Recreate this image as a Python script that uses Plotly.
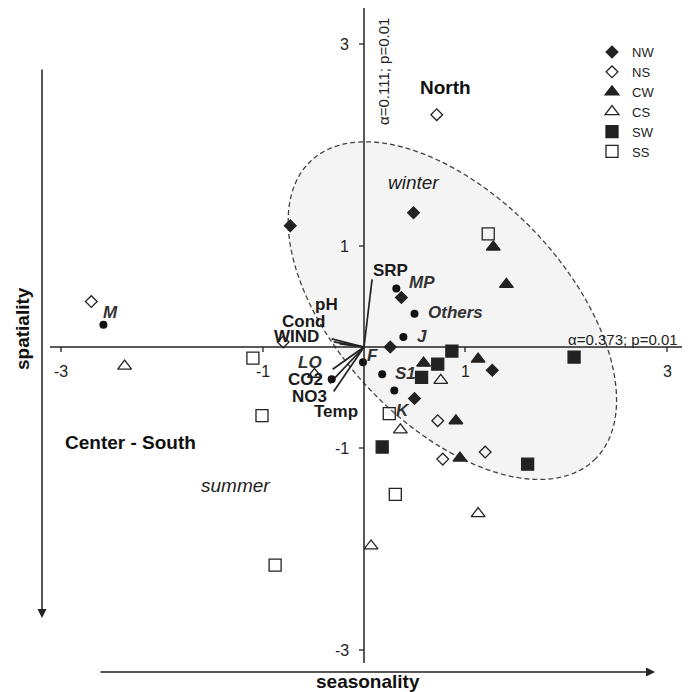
import numpy as np
import plotly.graph_objects as go

# ---------------- data ----------------
# site scores per group
NW_x = [-0.73, 0.49, 0.37, 0.26, 1.27, 0.50]
NW_y = [1.20, 1.33, 0.49, 0.00, -0.23, -0.51]
NS_x = [-2.70, 0.72, -0.80, 0.73, 0.78, 1.20]
NS_y = [0.45, 2.30, 0.05, -0.73, -1.11, -1.04]
CW_x = [1.28, 1.41, 0.59, 1.13, 0.91, 0.95]
CW_y = [0.99, 0.62, -0.16, -0.12, -0.73, -1.10]
CS_x = [-2.37, 0.76, 0.36, 1.13, 0.07, -0.49]
CS_y = [-0.19, -0.33, -0.82, -1.65, -1.97, -0.27]
SW_x = [0.57, 0.73, 0.87, 2.08, 1.62, 0.18]
SW_y = [-0.30, -0.17, -0.04, -0.10, -1.16, -0.99]
SS_x = [1.23, -1.10, -1.01, 0.25, 0.31, -0.88]
SS_y = [1.12, -0.11, -0.68, -0.66, -1.46, -2.16]

# species scores
sp_names = ["M", "MP", "Others", "J", "F", "S1", "K", "LO"]
sp_x = [-2.58, 0.32, 0.50, 0.39, -0.01, 0.18, 0.30, -0.32]
sp_y = [0.22, 0.58, 0.33, 0.10, -0.15, -0.27, -0.43, -0.32]

# environmental vectors
env_names = ["SRP", "pH", "Cond", "WIND", "CO2", "NO3", "Temp"]
env_x = [0.08, -0.32, -0.30, -0.24, -0.31, -0.34, -0.30]
env_y = [0.67, 0.08, 0.05, 0.03, -0.22, -0.36, -0.44]

tick_vals = [-3, -1, 1, 3]
tick_text = ["-3", "-1", "1", "3"]

# ---------------- styles / label offsets (pixels) ----------------
sp_off = {"M": (7, 12), "MP": (26, 6), "Others": (41, 1), "J": (19, 0),
          "F": (10, 7), "S1": (23, 1), "K": (9, -20), "LO": (-22, 17)}
env_off = {"SRP": (18, 9), "pH": (-5, 34), "Cond": (-30, 20), "WIND": (-43, 7),
           "CO2": (-27, -10), "NO3": (-20, -13), "Temp": (2, -20)}

FONT = "Liberation Sans, Arial, sans-serif"
DARK = "#222222"
PX = 101.0  # pixels per unit

fig = go.Figure()

# ellipse (winter / North group envelope)
cx, cy, a, b, ang = 0.875, 0.36, 2.04, 1.13, np.deg2rad(-46.5)
t = np.linspace(0, 2 * np.pi, 181)
ex = cx + a * np.cos(t) * np.cos(ang) - b * np.sin(t) * np.sin(ang)
ey = cy + a * np.cos(t) * np.sin(ang) + b * np.sin(t) * np.cos(ang)
path = "M " + " L ".join(f"{u:.4f},{v:.4f}" for u, v in zip(ex, ey)) + " Z"
fig.add_shape(type="path", path=path, xref="x", yref="y", layer="below",
              fillcolor="#f4f4f4", line=dict(color="#444444", width=1.3, dash="5px,3px"))

# axes through origin
fig.add_shape(type="line", x0=(50 - 364) / PX, x1=(682 - 364) / PX, y0=0, y1=0,
              line=dict(color=DARK, width=1.5))
fig.add_shape(type="line", x0=0, x1=0, y0=(347 - 663) / PX, y1=(347 - 8) / PX,
              line=dict(color=DARK, width=1.5))
for v, s in zip(tick_vals, tick_text):
    fig.add_shape(type="line", x0=v, x1=v, y0=0, y1=-5 / PX, line=dict(color=DARK, width=1.3))
    fig.add_shape(type="line", x0=0, x1=-5 / PX, y0=v, y1=v, line=dict(color=DARK, width=1.3))
    fig.add_annotation(x=v, y=0, text=s, showarrow=False, xanchor="center", yanchor="middle",
                       yshift=-24, font=dict(family=FONT, size=16, color=DARK))
    fig.add_annotation(x=0, y=v, text=s, showarrow=False, xanchor="right", yanchor="middle",
                       xshift=-13, font=dict(family=FONT, size=16, color=DARK))

# environmental vectors
lx, ly = [], []
for x, y in zip(env_x, env_y):
    lx += [0, x, None]
    ly += [0, y, None]
fig.add_trace(go.Scatter(x=lx, y=ly, mode="lines", line=dict(color=DARK, width=1.7),
                         showlegend=False, hoverinfo="skip"))
for n, x, y in zip(env_names, env_x, env_y):
    dx, dy = env_off[n]
    fig.add_annotation(x=x, y=y, text=f"<b>{n}</b>", showarrow=False, xshift=dx, yshift=dy,
                       font=dict(family=FONT, size=17, color="#1a1a1a"))

# groups
groups = [
    ("NW", NW_x, NW_y, "diamond", DARK, 9),
    ("NS", NS_x, NS_y, "diamond-open", DARK, 9),
    ("CW", CW_x, CW_y, "triangle-up", DARK, 12),
    ("CS", CS_x, CS_y, "triangle-up-open", DARK, 12),
    ("SW", SW_x, SW_y, "square", DARK, 12),
    ("SS", SS_x, SS_y, "square-open", DARK, 12),
]
for name, xs, ys, sym, col, sz in groups:
    fig.add_trace(go.Scatter(x=xs, y=ys, mode="markers", name=name,
                             marker=dict(symbol=sym, size=sz, color=col,
                                         line=dict(color=col, width=1.3))))

# species
fig.add_trace(go.Scatter(x=sp_x, y=sp_y, mode="markers", showlegend=False,
                         marker=dict(symbol="circle", size=8, color="#111111")))
for n, x, y in zip(sp_names, sp_x, sp_y):
    dx, dy = sp_off[n]
    fig.add_annotation(x=x, y=y, text=f"<b><i>{n}</i></b>", showarrow=False,
                       xshift=dx, yshift=dy, font=dict(family=FONT, size=17, color="#333333"))


# region / season labels
def px2x(p):
    return (p - 364) / PX


def px2y(p):
    return (347 - p) / PX


fig.add_annotation(x=px2x(445), y=px2y(87), text="<b>North</b>", showarrow=False,
                   font=dict(family=FONT, size=19, color="#111111"))
fig.add_annotation(x=px2x(130), y=px2y(442), text="<b>Center - South</b>", showarrow=False,
                   font=dict(family=FONT, size=19, color="#111111"))
fig.add_annotation(x=px2x(413), y=px2y(182), text="<i>winter</i>", showarrow=False,
                   font=dict(family=FONT, size=19, color="#222222"))
fig.add_annotation(x=px2x(235), y=px2y(485), text="<i>summer</i>", showarrow=False,
                   font=dict(family=FONT, size=19, color="#222222"))

# significance labels
fig.add_annotation(x=px2x(383), y=px2y(72), text="\u03b1=0.111; p=0.01", textangle=-90,
                   showarrow=False, font=dict(family=FONT, size=15, color=DARK))
fig.add_annotation(x=px2x(623), y=px2y(339), text="\u03b1=0.373; p=0.01",
                   showarrow=False, font=dict(family=FONT, size=15, color=DARK))

# outer direction arrows
fig.add_annotation(x=px2x(42), y=px2y(618), ax=0, ay=-550, axref="pixel", ayref="pixel",
                   text="", showarrow=True, arrowhead=2, arrowsize=1.2, arrowwidth=1.5,
                   arrowcolor=DARK)
fig.add_annotation(x=px2x(655), y=px2y(672), ax=-556, ay=0, axref="pixel", ayref="pixel",
                   text="", showarrow=True, arrowhead=2, arrowsize=1.2, arrowwidth=1.5,
                   arrowcolor=DARK)
fig.add_annotation(x=px2x(22), y=px2y(329), text="<b>spatiality</b>", textangle=-90,
                   showarrow=False, font=dict(family=FONT, size=19, color="#111111"))
fig.add_annotation(x=px2x(368), y=px2y(681), text="<b>seasonality</b>",
                   showarrow=False, font=dict(family=FONT, size=19, color="#111111"))

fig.update_layout(
    width=694, height=692,
    margin=dict(l=0, r=0, t=0, b=0),
    paper_bgcolor="white", plot_bgcolor="white",
    xaxis=dict(visible=False, range=[-364 / PX, 330 / PX], fixedrange=True),
    yaxis=dict(visible=False, range=[-345 / PX, 347 / PX], fixedrange=True),
    showlegend=True,
    legend=dict(x=592 / 694, y=1 - 37 / 692, xanchor="left", yanchor="top",
                bgcolor="rgba(0,0,0,0)", font=dict(family=FONT, size=13, color=DARK),
                tracegroupgap=0, itemwidth=30),
    font=dict(family=FONT),
)

fig.write_html("out.html")
